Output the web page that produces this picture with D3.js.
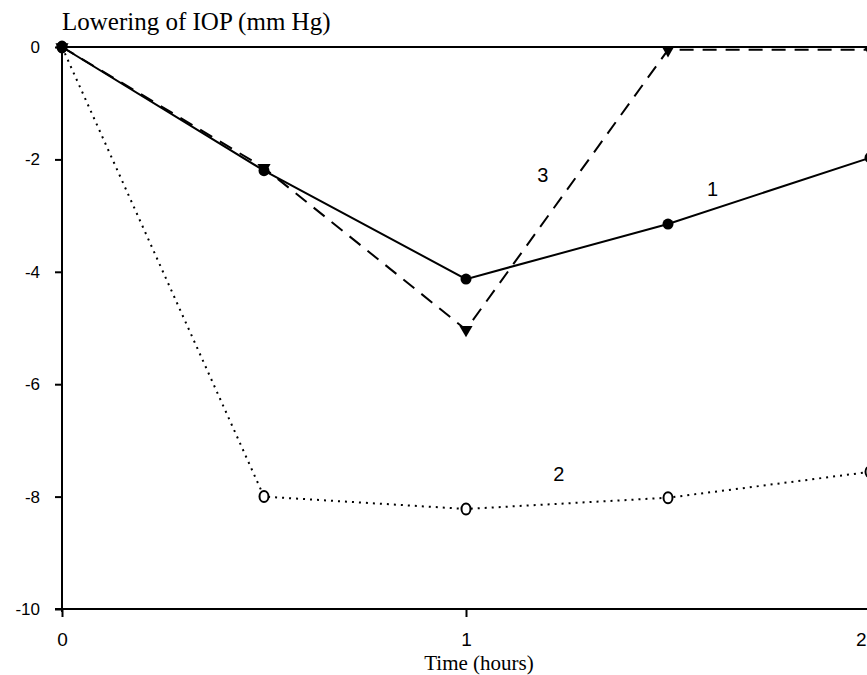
<!DOCTYPE html>
<html><head><meta charset="utf-8">
<script src="https://cdn.jsdelivr.net/npm/d3@7/dist/d3.min.js"></script>
<style>body{margin:0;background:#fff;overflow:hidden}</style>
</head><body><svg id="c" width="867" height="675"></svg>
<script>
const times = [0, 0.5, 1, 1.5, 2];
const series1 = [0, -2.2, -4.13, -3.15, -1.97];
const series2 = [0, -8.0, -8.22, -8.02, -7.56];
const series3 = [0, -2.15, -5.03, -0.05, -0.05];
const xTicks = [0, 1, 2];
const yTicks = [0, -2, -4, -6, -8, -10];
const seriesLabels = [{name:"1", t:1.61, v:-2.65}, {name:"2", t:1.23, v:-7.72}, {name:"3", t:1.19, v:-2.4}];

const numFont = "Liberation Sans, Arial";
const serifFont = "Liberation Serif, Times New Roman";

const svg = d3.select("#c");
const x = d3.scaleLinear().domain([0, 2]).range([62, 870]);
const y = d3.scaleLinear().domain([-10, 0]).range([609, 47]);

// y axis
const ya = svg.append("g").attr("transform", `translate(${x(0)},0)`)
  .call(d3.axisLeft(y).tickValues(yTicks).tickSize(7).tickPadding(15).tickFormat(d => String(d)));
ya.select(".domain").attr("d", `M0,${y(0)}V${y(-10)+3}`).attr("stroke-width", 2);
ya.selectAll(".tick line").attr("stroke-width", 2);
ya.selectAll("text").attr("font-family", numFont).attr("font-size", 17).attr("fill", "#000");

// x axis
const xa = svg.append("g").attr("transform", `translate(0,${y(-10)})`)
  .call(d3.axisBottom(x).tickValues(xTicks).tickSize(8).tickPadding(16).tickFormat(d => String(d)));
xa.select(".domain").attr("d", `M${x(0)-7},0H${x(2)}`).attr("stroke-width", 2);
xa.selectAll(".tick line").attr("stroke-width", 2);
xa.selectAll("text").attr("font-family", numFont).attr("font-size", 19).attr("fill", "#000")
  .attr("text-anchor", d => d === 2 ? "end" : "middle")
  .attr("dx", d => d === 2 ? -4 : 0);

// zero line
svg.append("line").attr("x1", x(0)).attr("x2", x(2)).attr("y1", y(0)).attr("y2", y(0))
  .attr("stroke", "#000").attr("stroke-width", 2);

const line = d3.line().x((d,i)=>x(times[i])).y(d=>y(d));

svg.append("path").datum(series2).attr("d", line).attr("fill","none").attr("stroke","#000")
  .attr("stroke-width",2).attr("stroke-dasharray","2,5");
svg.append("path").datum(series3).attr("d", line).attr("fill","none").attr("stroke","#000")
  .attr("stroke-width",2).attr("stroke-dasharray","14,9");
svg.append("path").datum(series1).attr("d", line).attr("fill","none").attr("stroke","#000")
  .attr("stroke-width",2);

// markers
svg.selectAll(".m2").data(series2).enter().append("ellipse")
  .attr("cx",(d,i)=>x(times[i])).attr("cy",d=>y(d)).attr("rx",4.5).attr("ry",5.5)
  .attr("fill","#fff").attr("stroke","#000").attr("stroke-width",2);
const tri = d3.symbol().type(d3.symbolTriangle).size(75);
svg.selectAll(".m3").data(series3).enter().append("path")
  .attr("d", tri).attr("transform",(d,i)=>`translate(${x(times[i])},${y(d)}) rotate(180)`)
  .attr("fill","#000");
svg.selectAll(".m1").data(series1).enter().append("circle")
  .attr("cx",(d,i)=>x(times[i])).attr("cy",d=>y(d)).attr("r",5.5).attr("fill","#000");

// series labels
svg.selectAll(".sl").data(seriesLabels).enter().append("text")
  .attr("x", d=>x(d.t)).attr("y", d=>y(d.v)).attr("text-anchor","middle")
  .attr("font-family", numFont).attr("font-size",20).text(d=>d.name);

// titles
svg.append("text").attr("x", 62).attr("y", 30).attr("font-family", serifFont)
  .attr("font-size", 25).text("Lowering of IOP (mm Hg)");
svg.append("text").attr("x", x(1)+13).attr("y", 670).attr("text-anchor","middle")
  .attr("font-family", serifFont).attr("font-size", 21).text("Time (hours)");
</script></body></html>
